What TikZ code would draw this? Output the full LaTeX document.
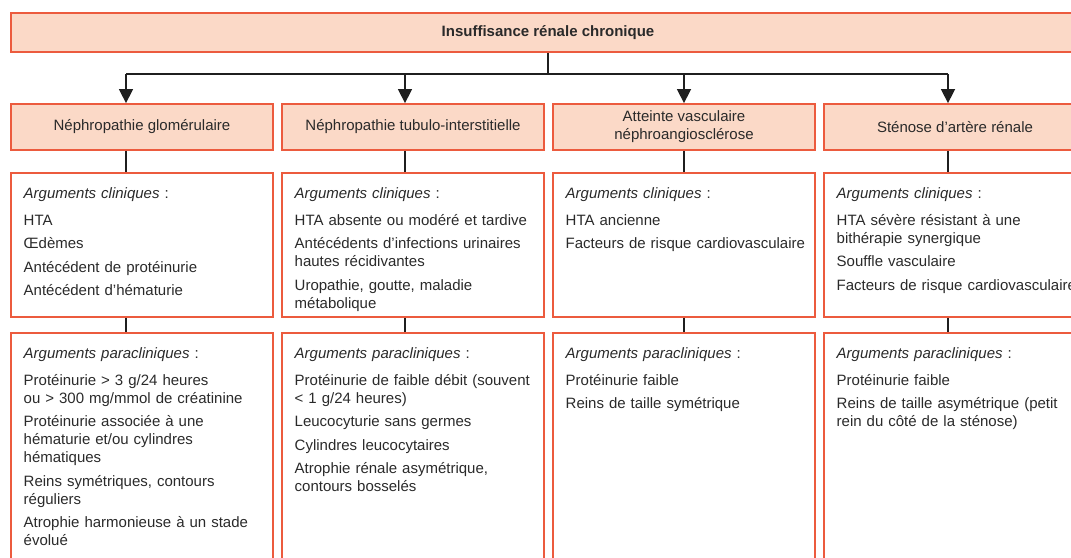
\documentclass[tikz,border=0pt]{standalone}
\usepackage{fontspec}
\setmainfont{Liberation Sans}
\usetikzlibrary{arrows.meta}
\definecolor{boxline}{HTML}{EC5B3E}
\definecolor{boxfill}{HTML}{FBD9C7}
\definecolor{ink}{HTML}{2A2A2A}
\begin{document}
\begin{tikzpicture}[x=1pt,y=-1pt,
  txt/.style={font=\fontsize{15}{18}\selectfont, text=ink},
  frame/.style={draw=boxline, line width=1.8pt, inner sep=0pt, minimum width=262pt},
  filled/.style={frame, fill=boxfill},
  link/.style={draw=black!88, line width=1.5pt},
  arr/.style={link, -{Triangle[width=14pt,length=14pt]}},
  body/.style={txt, anchor=base west, align=left, inner sep=0pt, text width=330pt},
  head/.style={filled, txt, minimum height=46pt, align=center},
  clin/.style={frame, minimum height=144pt},
  para/.style={frame, minimum height=267pt},
]
\useasboundingbox (0,0) rectangle (1071,557);
\clip (0,0) rectangle (1071,557);

% root
\node[filled, txt, font=\fontsize{15}{18}\selectfont\bfseries, minimum width=1074pt, minimum height=39pt] (top) at (548,32.5) {Insuffisance rénale chronique};

% one column per aetiology
\node[head] (h1) at (142,127) {Néphropathie glomérulaire};
\node[head] (h2) at (413,127) {Néphropathie tubulo-interstitielle};
\node[head] (h3) at (684,127) {Atteinte vasculaire\\néphroangiosclérose};
\node[head] (h4) at (955,127) {Sténose d’artère rénale};

\node[clin] (c1) at (142,245) {};
\node[clin] (c2) at (413,245) {};
\node[clin] (c3) at (684,245) {};
\node[clin] (c4) at (955,245) {};

\node[para] (p1) at (142,466.5) {};
\node[para] (p2) at (413,466.5) {};
\node[para] (p3) at (684,466.5) {};
\node[para] (p4) at (955,466.5) {};

% clinical arguments
\node[body] (ct1) at (23.5,198) {\textit{Arguments cliniques} :\\[9pt]
HTA\\[5.5pt]
Œdèmes\\[5.5pt]
Antécédent de protéinurie\\[5.5pt]
Antécédent d’hématurie};
\node[body] (ct2) at (294.5,198) {\textit{Arguments cliniques} :\\[9pt]
HTA absente ou modéré et tardive\\[5.5pt]
Antécédents d’infections urinaires\\
hautes récidivantes\\[5.5pt]
Uropathie, goutte, maladie\\
métabolique};
\node[body] (ct3) at (565.5,198) {\textit{Arguments cliniques} :\\[9pt]
HTA ancienne\\[5.5pt]
Facteurs de risque cardiovasculaire};
\node[body] (ct4) at (836.5,198) {\textit{Arguments cliniques} :\\[9pt]
HTA sévère résistant à une\\
bithérapie synergique\\[5.5pt]
Souffle vasculaire\\[5.5pt]
Facteurs de risque cardiovasculaire};

% paraclinical arguments
\node[body] (pt1) at (23.5,358) {\textit{Arguments paracliniques} :\\[9pt]
Protéinurie > 3 g/24 heures\\
ou > 300 mg/mmol de créatinine\\[5.5pt]
Protéinurie associée à une\\
hématurie et/ou cylindres\\
hématiques\\[5.5pt]
Reins symétriques, contours\\
réguliers\\[5.5pt]
Atrophie harmonieuse à un stade\\
évolué};
\node[body] (pt2) at (294.5,358) {\textit{Arguments paracliniques} :\\[9pt]
Protéinurie de faible débit (souvent\\
< 1 g/24 heures)\\[5.5pt]
Leucocyturie sans germes\\[5.5pt]
Cylindres leucocytaires\\[5.5pt]
Atrophie rénale asymétrique,\\
contours bosselés};
\node[body] (pt3) at (565.5,358) {\textit{Arguments paracliniques} :\\[9pt]
Protéinurie faible\\[5.5pt]
Reins de taille symétrique};
\node[body] (pt4) at (836.5,358) {\textit{Arguments paracliniques} :\\[9pt]
Protéinurie faible\\[5.5pt]
Reins de taille asymétrique (petit\\
rein du côté de la sténose)};

% distribution bus
\coordinate (a1) at (126,74);
\coordinate (a2) at (405,74);
\coordinate (a3) at (684,74);
\coordinate (a4) at (948,74);
\draw[link] (top.south) -- (top.south |- a1);
\draw[link] (a1) -- (a4);
\foreach \i in {1,2,3,4} {
  \draw[arr] (a\i) -- (a\i |- h\i.north);
  \draw[link] (a\i |- h\i.south) -- (a\i |- c\i.north);
  \draw[link] (a\i |- c\i.south) -- (a\i |- p\i.north);
}
\end{tikzpicture}
\end{document}
